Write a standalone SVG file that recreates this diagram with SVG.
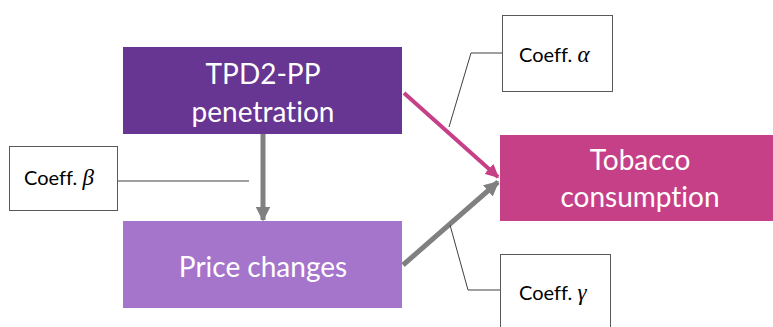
<svg xmlns="http://www.w3.org/2000/svg" width="773" height="327" viewBox="0 0 773 327">
  <style>
    text { font-variant-ligatures: none; }
    .lbl { font-family: Lato, "Open Sans", sans-serif; fill: #ffffff; font-size: 28px; text-anchor: middle; }
    .coef { font-family: Lato, "Open Sans", sans-serif; fill: #000000; font-size: 20px; }
    .greek { font-family: "Liberation Serif", serif; font-style: italic; font-size: 23px; }
    .cbox { fill: #ffffff; stroke: #595959; stroke-width: 1; }
    .lead { fill: none; stroke: #404040; stroke-width: 1; }
  </style>
  <defs>
    <marker id="headGray" viewBox="0 0 10 10" refX="9" refY="5" markerWidth="3" markerHeight="3" orient="auto" markerUnits="strokeWidth">
      <path d="M0,0 L10,5 L0,10 Z" fill="#808080"/>
    </marker>
    <marker id="headPink" viewBox="0 0 10 10" refX="9" refY="5" markerWidth="3.4" markerHeight="3.4" orient="auto" markerUnits="strokeWidth">
      <path d="M0,0 L10,5 L0,10 Z" fill="#C64087"/>
    </marker>
  </defs>

  <g id="connectors">
    <line x1="263" y1="134" x2="263" y2="220" stroke="#808080" stroke-width="5" marker-end="url(#headGray)"/>
    <line x1="403" y1="265" x2="498" y2="182" stroke="#808080" stroke-width="5" marker-end="url(#headGray)"/>
    <line x1="404" y1="93" x2="498" y2="177" stroke="#C64087" stroke-width="4" marker-end="url(#headPink)"/>
    <polyline class="lead" points="449,127 471,53 502,53"/>
    <line class="lead" x1="118" y1="181" x2="249" y2="181"/>
    <polyline class="lead" points="450,225 468,290 500,290"/>
  </g>

  <g id="tpd2">
    <rect x="123" y="47" width="279" height="87" fill="#673592"/>
    <text class="lbl" x="263" y="84">TPD2-PP</text>
    <text class="lbl" x="263" y="122">penetration</text>
  </g>

  <g id="price">
    <rect x="123" y="221" width="279" height="87" fill="#A575CB"/>
    <text class="lbl" x="263" y="277">Price changes</text>
  </g>

  <g id="tobacco">
    <rect x="500" y="135" width="273" height="86" fill="#C64087"/>
    <text class="lbl" x="640" y="170">Tobacco</text>
    <text class="lbl" x="640" y="207">consumption</text>
  </g>

  <g id="coeff-alpha">
    <rect class="cbox" x="502.5" y="15.5" width="110" height="76"/>
    <text class="coef" x="519" y="62">Coeff. <tspan class="greek">α</tspan></text>
  </g>

  <g id="coeff-beta">
    <rect class="cbox" x="9.5" y="146.5" width="108" height="64"/>
    <text class="coef" x="24" y="185">Coeff. <tspan class="greek">β</tspan></text>
  </g>

  <g id="coeff-gamma">
    <rect class="cbox" x="500.5" y="254.5" width="110" height="76"/>
    <text class="coef" x="519" y="300">Coeff. <tspan class="greek">γ</tspan></text>
  </g>
</svg>
